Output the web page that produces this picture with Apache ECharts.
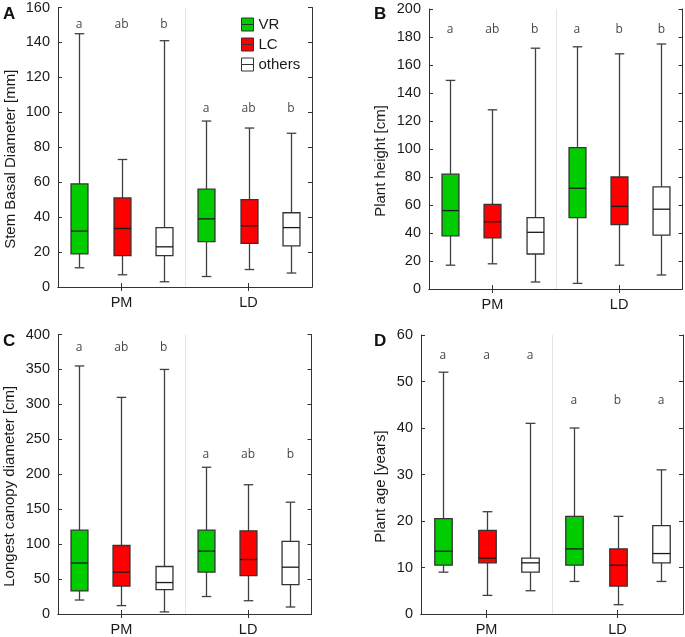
<!DOCTYPE html>
<html>
<head>
<meta charset="utf-8">
<script src="https://cdn.jsdelivr.net/npm/echarts@6/dist/echarts.min.js"></script>
<style>
  html, body { margin: 0; padding: 0; background: #fff; }
  #chart { width: 685px; height: 637px; }
</style>
</head>
<body>
<div id="chart"></div>
<script>
// ---------- data ----------
const groups = ['PM', 'LD'];
const species = ['VR', 'LC', 'others'];
const speciesColors = ['#00cc00', '#ff0000', '#ffffff'];

// each row: [min, Q1, median, Q3, max]; first row PM, second row LD
const diameterVR = [[11, 19, 32, 59, 145], [6, 26, 39, 56, 95]];
const diameterLC = [[7, 18, 33.5, 51, 73], [10, 25, 35, 50, 91]];
const diameterOthers = [[3, 18, 23, 34, 141], [8, 23.5, 34, 42.5, 88]];

const heightVR = [[17, 38, 56, 82, 149], [4, 51, 72, 101, 173]];
const heightLC = [[18, 36.5, 48, 60.5, 128], [17, 46, 59, 80, 168]];
const heightOthers = [[5, 25, 40.5, 51, 172], [10, 38.5, 57, 73, 175]];

const canopyVR = [[20, 33, 73, 120, 355], [25, 60, 90, 120, 210]];
const canopyLC = [[12, 40, 60, 98, 310], [19, 55, 78, 119, 185]];
const canopyOthers = [[3, 35, 45, 68, 350], [10, 42, 67, 104, 160]];

const ageVR = [[9, 10.5, 13.5, 20.5, 52], [7, 10.5, 14, 21, 40]];
const ageLC = [[4, 11, 12, 18, 22], [2, 6, 10.5, 14, 21]];
const ageOthers = [[5, 9, 11, 12, 41], [7, 11, 13, 19, 31]];

// significance letters (order: PM VR, LC, others, LD VR, LC, others) and their heights (axis units)
const lettersA = ['a', 'ab', 'b', 'a', 'ab', 'b'];
const letterYA = [150, 150, 150, 102, 102, 102];
const lettersB = ['a', 'ab', 'b', 'a', 'b', 'b'];
const letterYB = [185.5, 185.5, 185.5, 185.5, 185.5, 185.5];
const lettersC = ['a', 'ab', 'b', 'a', 'ab', 'b'];
const letterYC = [381, 381, 381, 228, 228, 228];
const lettersD = ['a', 'a', 'a', 'a', 'b', 'a'];
const letterYD = [55.5, 55.5, 55.5, 45.8, 45.8, 45.8];

const yTicksA = { min: 0, max: 160, interval: 20 };
const yTicksB = { min: 0, max: 200, interval: 20 };
const yTicksC = { min: 0, max: 400, interval: 50 };
const yTicksD = { min: 0, max: 60, interval: 10 };

const yNames = ['Stem Basal Diameter [mm]', 'Plant height [cm]', 'Longest canopy diameter [cm]', 'Plant age [years]'];
const panelLabels = ['A', 'B', 'C', 'D'];

// ---------- layout ----------
const panels = [
  { grid: { left: 58, top: 6, width: 254, height: 281 }, ticks: yTicksA, stats: [diameterVR, diameterLC, diameterOthers], letters: lettersA, letterY: letterYA, nameGap: 40, label: { x: 3, y: 6 } },
  { grid: { left: 429, top: 9, width: 253.5, height: 280 }, ticks: yTicksB, stats: [heightVR, heightLC, heightOthers], letters: lettersB, letterY: letterYB, nameGap: 41, label: { x: 374, y: 6 } },
  { grid: { left: 58, top: 334.5, width: 253.5, height: 280 }, ticks: yTicksC, stats: [canopyVR, canopyLC, canopyOthers], letters: lettersC, letterY: letterYC, nameGap: 40.5, label: { x: 3, y: 333 } },
  { grid: { left: 421, top: 335, width: 262, height: 280 }, ticks: yTicksD, stats: [ageVR, ageLC, ageOthers], letters: lettersD, letterY: letterYD, nameGap: 33, label: { x: 374, y: 333 } }
];

const categories = [];
groups.forEach(g => species.forEach(s => categories.push(g + '|' + s)));

const FONT = 'Liberation Sans, Arial, sans-serif';
const frameColor = '#333';
const tickShown = (i) => i === 1 || i === 4;

function renderBox(params, api) {
  const xi = api.value(0);
  const lo = api.coord([xi, api.value(1)]);
  const q1 = api.coord([xi, api.value(2)]);
  const md = api.coord([xi, api.value(3)]);
  const q3 = api.coord([xi, api.value(4)]);
  const hi = api.coord([xi, api.value(5)]);
  const band = api.size([1, 0])[0];
  const bw = band * 0.40;
  const cw = band * 0.225;
  const x = Math.round(lo[0]) + 0.5;
  const ln = { stroke: '#404040', lineWidth: 1.3 };
  return {
    type: 'group',
    children: [
      { type: 'line', shape: { x1: x, y1: hi[1], x2: x, y2: q3[1] }, style: ln },
      { type: 'line', shape: { x1: x, y1: q1[1], x2: x, y2: lo[1] }, style: ln },
      { type: 'line', shape: { x1: x - cw / 2, y1: hi[1], x2: x + cw / 2, y2: hi[1] }, style: ln },
      { type: 'line', shape: { x1: x - cw / 2, y1: lo[1], x2: x + cw / 2, y2: lo[1] }, style: ln },
      { type: 'rect', shape: { x: x - bw / 2, y: q3[1], width: bw, height: q1[1] - q3[1] }, style: { fill: api.visual('color'), stroke: '#333', lineWidth: 1.3 } },
      { type: 'line', shape: { x1: x - bw / 2, y1: md[1], x2: x + bw / 2, y2: md[1] }, style: { stroke: '#1a1a1a', lineWidth: 1.3 } }
    ]
  };
}

const grids = [], xAxes = [], yAxes = [], series = [], graphics = [];

panels.forEach((p, g) => {
  grids.push(Object.assign({ containLabel: false }, p.grid));
  xAxes.push({
    type: 'category', gridIndex: g, position: 'bottom', data: categories,
    axisLine: { show: true, lineStyle: { color: frameColor, width: 1 } },
    axisTick: { show: true, inside: true, length: 4, alignWithLabel: true, interval: tickShown, lineStyle: { color: frameColor } },
    axisLabel: { show: true, interval: tickShown, margin: 8, fontFamily: FONT, fontSize: 14.5, color: '#1a1a1a', formatter: v => v.split('|')[0] },
    splitLine: { show: false }
  });
  xAxes.push({
    type: 'category', gridIndex: g, position: 'top', data: categories,
    axisLine: { show: true, lineStyle: { color: frameColor, width: 1 } },
    axisTick: { show: true, inside: true, length: 4, alignWithLabel: true, interval: tickShown, lineStyle: { color: frameColor } },
    axisLabel: { show: false }, splitLine: { show: false }
  });
  xAxes.push({
    type: 'value', gridIndex: g, min: 0, max: 6, interval: 3,
    axisLine: { show: false }, axisTick: { show: false }, axisLabel: { show: false },
    splitLine: { show: true, showMinLine: false, showMaxLine: false, lineStyle: { color: '#e4e4e4', width: 1 } }
  });
  yAxes.push({
    type: 'value', gridIndex: g, position: 'left',
    min: p.ticks.min, max: p.ticks.max, interval: p.ticks.interval,
    name: yNames[g], nameLocation: 'middle', nameGap: p.nameGap,
    nameTextStyle: { fontFamily: FONT, fontSize: 15, color: '#1a1a1a', padding: [0, 24, 0, 0] },
    axisLine: { show: true, lineStyle: { color: frameColor, width: 1 } },
    axisTick: { show: true, inside: true, length: 4, lineStyle: { color: frameColor } },
    axisLabel: { margin: 8, fontFamily: FONT, fontSize: 14.5, color: '#1a1a1a' },
    splitLine: { show: false }
  });
  yAxes.push({
    type: 'value', gridIndex: g, position: 'right',
    min: p.ticks.min, max: p.ticks.max, interval: p.ticks.interval,
    axisLine: { show: true, lineStyle: { color: frameColor, width: 1 } },
    axisTick: { show: true, inside: true, length: 4, lineStyle: { color: frameColor } },
    axisLabel: { show: false }, splitLine: { show: false }
  });

  species.forEach((s, si) => {
    const rows = p.stats[si];
    series.push({
      type: 'custom', name: s, xAxisIndex: g * 3, yAxisIndex: g * 2,
      itemStyle: { color: speciesColors[si], borderColor: '#333', borderWidth: 1 },
      renderItem: renderBox,
      encode: { x: 0, y: [1, 2, 3, 4, 5] },
      silent: true,
      data: rows.map((r, gi) => [gi * species.length + si].concat(r))
    });
  });

  series.push({
    type: 'scatter', xAxisIndex: g * 3, yAxisIndex: g * 2, silent: true,
    symbol: 'circle', symbolSize: 1, itemStyle: { color: 'rgba(0,0,0,0)' },
    label: { show: true, position: 'inside', formatter: q => q.data[2], fontFamily: 'Open Sans, sans-serif', fontSize: 12, color: '#111' },
    data: p.letters.map((l, i) => [i, p.letterY[i], l])
  });

  graphics.push({
    type: 'text', left: p.label.x, top: p.label.y,
    style: { text: panelLabels[g], fontFamily: FONT, fontWeight: 'bold', fontSize: 17, fill: '#111' }
  });
});

const chart = echarts.init(document.getElementById('chart'), null, { renderer: 'canvas' });
chart.setOption({
  animation: false,
  backgroundColor: '#fff',
  grid: grids,
  xAxis: xAxes,
  yAxis: yAxes,
  legend: {
    data: species, orient: 'vertical', left: 241, top: 17, padding: 0,
    itemWidth: 12, itemHeight: 13, itemGap: 5,
    icon: 'path://M0,0H12V13H0ZM0,6.5H12',
    itemStyle: { borderColor: '#333', borderWidth: 1 },
    textStyle: { fontFamily: FONT, fontSize: 15, color: '#1a1a1a' },
    selectedMode: false
  },
  graphic: graphics,
  series: series
});
</script>
</body>
</html>
